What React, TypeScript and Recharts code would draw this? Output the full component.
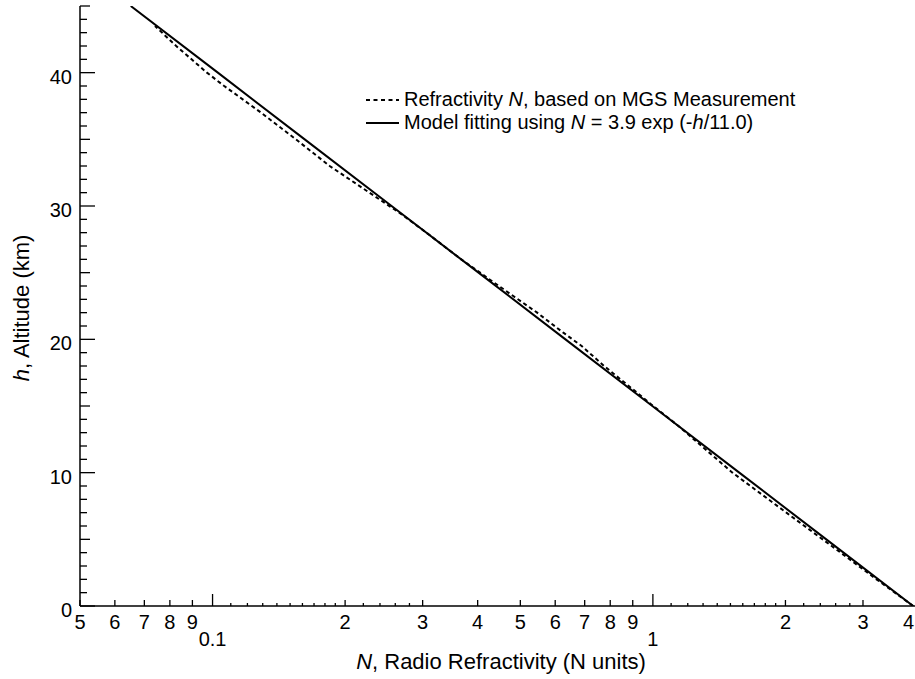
import React from 'react';
import { LineChart, Line, XAxis, YAxis, Legend, Label } from 'recharts';

const FONT = '"Liberation Sans", Arial, Helvetica, sans-serif';

// model fit N = 3.9 exp(-h/11.0), read at 5 km steps
const modelAlt = [0, 5, 10, 15, 20, 25, 30, 35, 40, 45];
const modelN = [3.9, 2.476, 1.571, 0.997, 0.633, 0.4018, 0.255, 0.1619, 0.1028, 0.0652];

// MGS based refractivity profile
const mgsAlt = [0, 2, 4, 7, 10, 12, 13.5, 15, 16, 18, 19.5, 20.5, 22, 24, 26, 28, 29.5, 31, 33, 35, 37, 39, 40, 41, 42, 43.5];
const mgsN = [3.9, 3.22, 2.67, 2.01, 1.516, 1.29, 1.143, 1.002, 0.92, 0.775, 0.689, 0.626, 0.546, 0.447, 0.367, 0.306, 0.2655, 0.2271, 0.1845, 0.1546, 0.1289, 0.1063, 0.0971, 0.0896, 0.0827, 0.074];

// x ticks
const majorTicks = [0.05, 0.06, 0.07, 0.08, 0.09, 0.1, 0.2, 0.3, 0.4, 0.5, 0.6, 0.7, 0.8, 0.9, 1, 2, 3, 4];
const majorLabels = ['5', '6', '7', '8', '9', '0.1', '2', '3', '4', '5', '6', '7', '8', '9', '1', '2', '3', '4'];
const decadeTicks = [0.1, 1];
const minorTicks = [0.11, 0.12, 0.13, 0.14, 0.15, 0.16, 0.17, 0.18, 0.19, 0.22, 0.24, 0.26, 0.28,
  1.1, 1.2, 1.3, 1.4, 1.5, 1.6, 1.7, 1.8, 1.9, 2.2, 2.4, 2.6, 2.8];
const xTicks = [...majorTicks, ...minorTicks].sort((a, b) => a - b);

// y ticks
const yTicks = Array.from({ length: 46 }, (_, i) => i);
const yLabelValues = [0, 10, 20, 30, 40];

const modelData = modelAlt.map((h, i) => ({ n: modelN[i], h }));
const mgsData = mgsAlt.map((h, i) => ({ n: mgsN[i], h }));

const tickLen = (v: number) => (decadeTicks.includes(v) ? 12 : majorTicks.includes(v) ? 6 : 3);
const leftLen = (v: number) => (v % 10 === 0 ? 15 : v % 5 === 0 ? 10 : 7);
const rightLen = (v: number) => (v % 10 === 0 ? 11 : v % 5 === 0 ? 7 : 3);

function BottomTick({ x, y, payload }: any) {
  const v = payload.value;
  const i = majorTicks.indexOf(v);
  const dec = decadeTicks.includes(v);
  // last label sits on the page edge, keep it inside
  const edge = x > 905;
  return (
    <g>
      <line x1={x} x2={x} y1={y} y2={y - tickLen(v)} stroke="#000" strokeWidth={1.3} />
      {i >= 0 && (
        <text
          x={edge ? 914 : x}
          y={y + (dec ? 40 : 23)}
          textAnchor={edge ? 'end' : 'middle'}
          fontSize={20}
          fontFamily={FONT}
          fill="#000"
        >
          {majorLabels[i]}
        </text>
      )}
    </g>
  );
}

function TopTick({ x, y, payload }: any) {
  return <line x1={x} x2={x} y1={y} y2={y + tickLen(payload.value)} stroke="#000" strokeWidth={1.3} />;
}

function LeftTick({ x, y, payload }: any) {
  const v = payload.value;
  return (
    <g>
      <line x1={x} x2={x + leftLen(v)} y1={y} y2={y} stroke="#000" strokeWidth={1.3} />
      {yLabelValues.includes(v) && (
        <text x={x - 8} y={y + 4} dy="0.35em" textAnchor="end" fontSize={20} fontFamily={FONT} fill="#000">
          {v}
        </text>
      )}
    </g>
  );
}

function RightTick({ x, y, payload }: any) {
  return <line x1={x} x2={x - rightLen(payload.value)} y1={y} y2={y} stroke="#000" strokeWidth={1.3} />;
}

function XTitle({ viewBox }: any) {
  const cx = viewBox.x + viewBox.width / 2 + 2;
  return (
    <text x={cx} y={669} textAnchor="middle" fontSize={22} fontFamily={FONT} fill="#000">
      <tspan fontStyle="italic">N</tspan>, Radio Refractivity (N units)
    </text>
  );
}

function YTitle({ viewBox }: any) {
  const cy = viewBox.y + viewBox.height / 2 + 2;
  return (
    <text transform={`translate(29,${cy}) rotate(-90)`} textAnchor="middle" fontSize={22} fontFamily={FONT} fill="#000">
      <tspan fontStyle="italic">h</tspan>, Altitude (km)
    </text>
  );
}

function LegendBox() {
  const row = { display: 'flex', alignItems: 'center', height: 23, whiteSpace: 'nowrap' as const };
  return (
    <div style={{ fontFamily: FONT, fontSize: 20, color: '#000', lineHeight: '23px' }}>
      <div style={row}>
        <svg width={42} height={10}>
          <line x1={4} x2={37} y1={5} y2={5} stroke="#000" strokeWidth={2} strokeDasharray="4 3.5" />
        </svg>
        <span>Refractivity <i>N</i>, based on MGS Measurement</span>
      </div>
      <div style={row}>
        <svg width={42} height={10}>
          <line x1={4} x2={37} y1={5} y2={5} stroke="#000" strokeWidth={2} />
        </svg>
        <span>Model fitting using <i>N</i> = 3.9 exp (-<i>h</i>/11.0)</span>
      </div>
    </div>
  );
}

export default function App() {
  const axisLine = { stroke: '#000', strokeWidth: 1.5 };
  return (
    <div style={{ position: 'absolute', left: 0, top: 0, width: 915, height: 679, overflow: 'hidden', background: '#fff' }}>
      <LineChart width={930} height={679} margin={{ top: 6, right: 12, bottom: 0, left: 20 }}>
        <XAxis
          dataKey="n"
          type="number"
          scale="log"
          domain={[0.05, 4]}
          allowDataOverflow
          ticks={xTicks}
          interval={0}
          height={73}
          tickSize={0}
          tickMargin={0}
          tickLine={false}
          axisLine={axisLine}
          tick={BottomTick}
        >
          <Label content={XTitle} />
        </XAxis>
        <XAxis
          xAxisId="top"
          orientation="top"
          dataKey="n"
          type="number"
          scale="log"
          domain={[0.05, 4]}
          allowDataOverflow
          ticks={xTicks}
          interval={0}
          height={0}
          tickSize={0}
          tickMargin={0}
          tickLine={false}
          axisLine={axisLine}
          tick={TopTick}
        />
        <YAxis
          type="number"
          domain={[0, 45]}
          allowDataOverflow
          ticks={yTicks}
          interval={0}
          width={60}
          tickSize={0}
          tickMargin={0}
          tickLine={false}
          axisLine={axisLine}
          tick={LeftTick}
        >
          <Label content={YTitle} />
        </YAxis>
        <YAxis
          yAxisId="right"
          orientation="right"
          type="number"
          domain={[0, 45]}
          allowDataOverflow
          ticks={yTicks}
          interval={0}
          width={0}
          tickSize={0}
          tickMargin={0}
          tickLine={false}
          axisLine={axisLine}
          tick={RightTick}
        />
        <Legend
          layout="horizontal"
          verticalAlign="middle"
          align="center"
          wrapperStyle={{ top: 88, left: 362, width: 'auto' }}
          content={LegendBox}
        />
        <Line
          data={mgsData}
          dataKey="h"
          name="Refractivity N, based on MGS Measurement"
          stroke="#000"
          strokeWidth={2}
          strokeDasharray="4 3"
          dot={false}
          isAnimationActive={false}
        />
        <Line
          data={modelData}
          dataKey="h"
          name="Model fitting using N = 3.9 exp (-h/11.0)"
          stroke="#000"
          strokeWidth={2}
          dot={false}
          isAnimationActive={false}
        />
      </LineChart>
    </div>
  );
}
